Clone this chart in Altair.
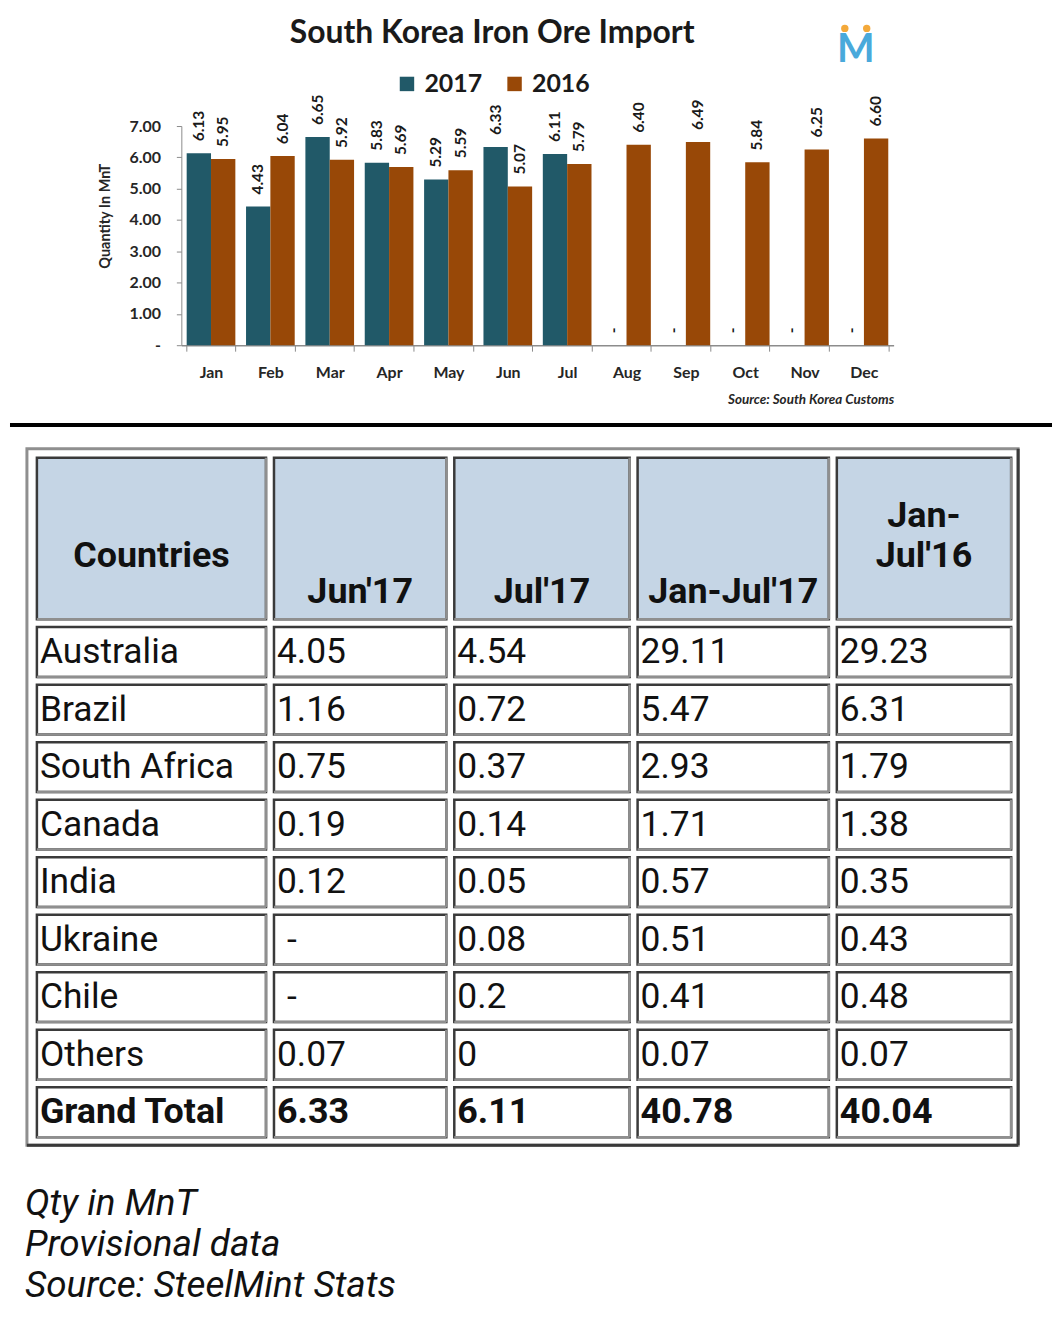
import altair as alt
import pandas as pd

# ---------------- data ----------------
months = ["Jan", "Feb", "Mar", "Apr", "May", "Jun", "Jul", "Aug", "Sep", "Oct", "Nov", "Dec"]
years = ["2017", "2016"]
imports_2017 = [6.13, 4.43, 6.65, 5.83, 5.29, 6.33, 6.11, None, None, None, None, None]
imports_2016 = [5.95, 6.04, 5.92, 5.69, 5.59, 5.07, 5.79, 6.40, 6.49, 5.84, 6.25, 6.60]
y_ticks = [0, 1, 2, 3, 4, 5, 6, 7]

chart_title = "South Korea Iron Ore Import"
table_headers = ["Countries", "Jun'17", "Jul'17", "Jan-Jul'17", "Jan-\nJul'16"]
countries = ["Australia", "Brazil", "South Africa", "Canada", "India",
             "Ukraine", "Chile", "Others", "Grand Total"]
jun17 = [4.05, 1.16, 0.75, 0.19, 0.12, None, None, 0.07, 6.33]
jul17 = [4.54, 0.72, 0.37, 0.14, 0.05, 0.08, 0.2, 0, 6.11]
janjul17 = [29.11, 5.47, 2.93, 1.71, 0.57, 0.51, 0.41, 0.07, 40.78]
janjul16 = [29.23, 6.31, 1.79, 1.38, 0.35, 0.43, 0.48, 0.07, 40.04]
footnotes = ["Qty in MnT", "Provisional data", "Source: SteelMint Stats"]

# ---------------- styles / layout (page pixel units) ----------------
TEAL = "#215968"
BROWN = "#984807"
HEADER_FILL = "#C5D5E5"
DARK_EDGE = "#3a3a3a"
LIGHT_EDGE = "#8f8f8f"
LOGO_BLUE = "#49A9DB"
LOGO_ORANGE = "#F4A93A"
INK = "#1a1a1a"

PLOT_LEFT, PLOT_TOP = 180, 125       # page position of the bar plot area
PLOT_W, PLOT_H = 715, 220
title_pos = (492, 42)
logo_pos = (857, 61)
logo_dots = [(846, 27), (868, 27)]
divider_pos = (8, 1054, 425)
col_left_px = [35, 273, 454, 638, 838]
col_right_px = [265, 446, 630, 830, 1013]
header_top_px, header_bottom_px = 458, 620
header_text_y_px = [557, 593, 593, 593, 517]
row_top_px, row_step_px, row_h_px = 628, 57.75, 50
text_indent, missing_indent = 3, 13
outer_px = (25, 449, 1020, 1148)
foot_x_px, foot_y_px, foot_lh = 23, 1218, 41

# ---------------- bar chart ----------------
rows = []
for yr, vals in zip(years, [imports_2017, imports_2016]):
    for m, v in zip(months, vals):
        rows.append({
            "month": m, "year": yr, "value": v,
            "ypos": v if v is not None else 0,
            "label": f"{v:.2f}" if v is not None else "-",
        })
bar_df = pd.DataFrame(rows)

x_axis = alt.Axis(
    labelAngle=0, labelFont="Lato", labelFontWeight="bold", labelFontSize=16,
    labelColor="#262626", labelPadding=13, tickSize=6, tickBand="extent",
    domainColor="#8c8c8c", tickColor="#8c8c8c", domainWidth=1.5,
    title="Source: South Korea Customs", titleFont="Lato", titleFontStyle="italic",
    titleFontWeight="bold", titleFontSize=13.5, titleColor="#262626",
    titleAnchor="end", titlePadding=13,
)
y_axis = alt.Axis(
    values=y_ticks, labelExpr="datum.value == 0 ? '-' : format(datum.value, '.2f')",
    labelFont="Lato", labelFontWeight="bold", labelFontSize=16, labelColor="#262626",
    labelPadding=16, tickSize=5, domainColor="#8c8c8c", tickColor="#8c8c8c",
    grid=False, title="Quantity In MnT", titleFont="Lato", titleFontWeight="bold",
    titleFontSize=14.5, titleColor="#262626", titlePadding=16, titleY=90,
)
y_scale = alt.Scale(domain=[0, 7], nice=False, zero=True)
x_enc = alt.X("month:N", sort=months, axis=x_axis,
              scale=alt.Scale(paddingInner=0.18, paddingOuter=0.09))
xo_enc = alt.XOffset("year:N", sort=years, scale=alt.Scale(paddingInner=0, paddingOuter=0))

bars = alt.Chart(bar_df).mark_bar().encode(
    x=x_enc, xOffset=xo_enc,
    y=alt.Y("value:Q", scale=y_scale, axis=y_axis),
    color=alt.Color("year:N", sort=years,
                    scale=alt.Scale(domain=years, range=[TEAL, BROWN]),
                    legend=alt.Legend(orient="none", legendX=214, legendY=-55,
                                      direction="horizontal", title=None,
                                      symbolType="square", symbolSize=210,
                                      symbolStrokeWidth=0, labelFont="Lato",
                                      labelFontWeight="bold", labelFontSize=25,
                                      labelColor=INK, labelOffset=5,
                                      columnPadding=19, padding=0)),
)
labels = alt.Chart(bar_df).mark_text(
    angle=270, align="left", baseline="middle", dx=12,
    font="Lato", fontSize=15.5, fontWeight="bold", color=INK,
).encode(
    x=x_enc, xOffset=xo_enc,
    y=alt.Y("ypos:Q", scale=y_scale, axis=y_axis),
    text="label:N",
)
bar_part = alt.layer(bars, labels)

# ---------------- page-coordinate part (title, logo, divider, table) ----------------
columns = [countries,
           [f"{v:g}" if v is not None else "-" for v in jun17],
           [f"{v:g}" for v in jul17],
           [f"{v:g}" for v in janjul17],
           [f"{v:g}" for v in janjul16]]

cells, edges, body_txt, head_txt = [], [], [], []
for c in range(5):
    l, r = col_left_px[c], col_right_px[c]
    t, b = header_top_px, header_bottom_px
    cells.append({"x": l, "x2": r, "y": t, "y2": b, "fill": HEADER_FILL})
    edges += [{"x": r, "x2": r, "y": t, "y2": b}, {"x": l, "x2": r, "y": b, "y2": b}]
    head_txt.append({"x": (l + r) / 2, "y": header_text_y_px[c], "text": table_headers[c]})
    for i in range(len(countries)):
        t = row_top_px + i * row_step_px
        b = t + row_h_px
        txt = columns[c][i]
        cells.append({"x": l, "x2": r, "y": t, "y2": b, "fill": "white"})
        edges += [{"x": r, "x2": r, "y": t, "y2": b}, {"x": l, "x2": r, "y": b, "y2": b}]
        body_txt.append({"x": l + (missing_indent if txt == "-" else text_indent),
                         "y": (t + b) / 2, "text": txt,
                         "bold": countries[i] == "Grand Total"})

cells_df = pd.DataFrame(cells)
edges_df = pd.DataFrame(edges)
body_df = pd.DataFrame(body_txt)
head_df = pd.DataFrame(head_txt)
ol, ot, orr, ob = outer_px
outer_df = pd.DataFrame([{"x": ol, "x2": orr, "y": ot, "y2": ob}])
outer_edges_df = pd.DataFrame([{"x": orr, "x2": orr, "y": ot, "y2": ob},
                               {"x": ol, "x2": orr, "y": ob, "y2": ob}])
foot_df = pd.DataFrame([{"x": foot_x_px, "y": foot_y_px, "text": "\n".join(footnotes)}])
divider_df = pd.DataFrame([{"x": divider_pos[0], "x2": divider_pos[1],
                            "y": divider_pos[2], "y2": divider_pos[2]}])
title_df = pd.DataFrame([{"x": title_pos[0], "y": title_pos[1], "text": chart_title}])
logo_df = pd.DataFrame([{"x": logo_pos[0], "y": logo_pos[1], "text": "M"}])
dots_df = pd.DataFrame([{"x": dx, "y": dy} for dx, dy in logo_dots])

px_scale = alt.Scale(domain=[PLOT_LEFT, PLOT_LEFT + PLOT_W], nice=False, zero=False)
py_scale = alt.Scale(domain=[PLOT_TOP, PLOT_TOP + PLOT_H], nice=False, zero=False, reverse=True)
TX = alt.X("x:Q", scale=px_scale, axis=None)
TY = alt.Y("y:Q", scale=py_scale, axis=None)

divider = alt.Chart(divider_df).mark_rule(color="black", strokeWidth=4).encode(
    x=TX, x2="x2:Q", y=TY, y2="y2:Q")
title_text = alt.Chart(title_df).mark_text(
    align="center", baseline="alphabetic", font="Lato", fontSize=32, fontWeight="bold",
    color=INK).encode(x=TX, y=TY, text="text:N")
logo_m = alt.Chart(logo_df).mark_text(
    align="center", baseline="alphabetic", font="Lato", fontSize=40, fontWeight="bold",
    color=LOGO_BLUE).encode(x=TX, y=TY, text="text:N")
logo_dot = alt.Chart(dots_df).mark_circle(size=55, color=LOGO_ORANGE, opacity=1).encode(
    x=TX, y=TY)
outer_rect = alt.Chart(outer_df).mark_rect(fillOpacity=0, stroke=LIGHT_EDGE, strokeWidth=3).encode(
    x=TX, x2="x2:Q", y=TY, y2="y2:Q")
outer_dark = alt.Chart(outer_edges_df).mark_rule(color=DARK_EDGE, strokeWidth=3).encode(
    x=TX, x2="x2:Q", y=TY, y2="y2:Q")
cell_rect = alt.Chart(cells_df).mark_rect(stroke=DARK_EDGE, strokeWidth=2.5).encode(
    x=TX, x2="x2:Q", y=TY, y2="y2:Q", fill=alt.Fill("fill:N", scale=None))
cell_edges = alt.Chart(edges_df).mark_rule(color=LIGHT_EDGE, strokeWidth=2.5).encode(
    x=TX, x2="x2:Q", y=TY, y2="y2:Q")
body_regular = alt.Chart(body_df[~body_df["bold"]]).mark_text(
    align="left", baseline="middle", font="Roboto", fontSize=35.5, color="#111111").encode(
    x=TX, y=TY, text="text:N")
body_bold = alt.Chart(body_df[body_df["bold"]]).mark_text(
    align="left", baseline="middle", font="Roboto", fontSize=36, fontWeight="bold",
    color="#111111").encode(x=TX, y=TY, text="text:N")
header_text = alt.Chart(head_df).mark_text(
    align="center", baseline="middle", font="Roboto", fontSize=36, fontWeight="bold",
    color="#111111", lineBreak="\n", lineHeight=40).encode(x=TX, y=TY, text="text:N")
foot_text = alt.Chart(foot_df).mark_text(
    align="left", baseline="alphabetic", font="Roboto", fontSize=37, fontStyle="italic",
    color="#111111", lineBreak="\n", lineHeight=foot_lh).encode(x=TX, y=TY, text="text:N")

page_part = alt.layer(divider, title_text, logo_m, logo_dot, outer_rect, outer_dark,
                      cell_rect, cell_edges, body_regular, body_bold, header_text, foot_text)

chart = alt.layer(bar_part, page_part).resolve_scale(
    x="independent", y="independent"
).properties(
    width=PLOT_W, height=PLOT_H,
    padding={"left": 0, "top": 7, "right": 0, "bottom": 0},
).configure_view(stroke="transparent")

chart.save("out.html", embed_options={"renderer": "svg", "actions": False})
